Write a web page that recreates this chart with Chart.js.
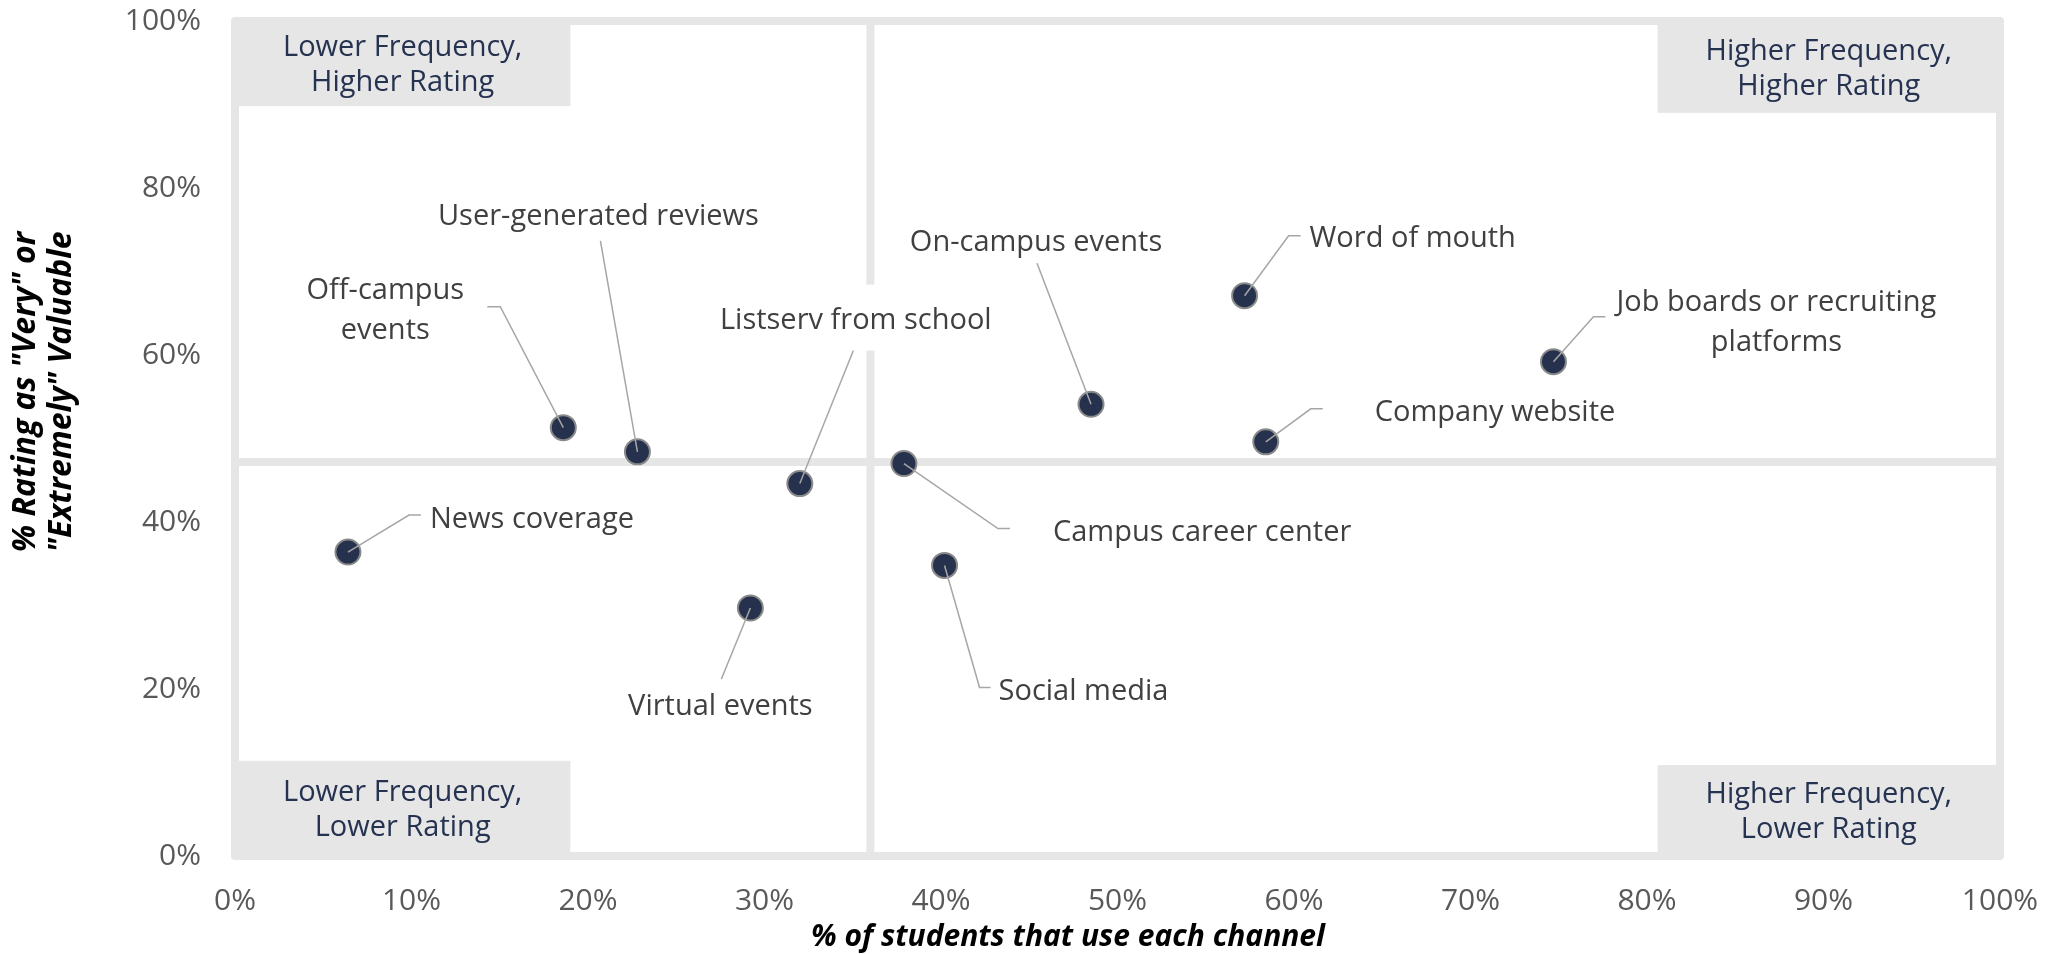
<!DOCTYPE html>
<html>
<head>
<meta charset="utf-8">
<script src="https://cdn.jsdelivr.net/npm/chart.js@4.4.1/dist/chart.umd.min.js"></script>
<style>
  html, body { margin: 0; padding: 0; background: #fff; }
  #wrap { width: 2046px; height: 954px; position: relative; }
</style>
</head>
<body>
<div id="wrap"><canvas id="quadchart"></canvas></div>
<script>
// channels, % of students using each one (x) and % rating it very/extremely valuable (y)
const channels = [
  'News coverage', 'Off-campus\nevents', 'User-generated reviews', 'Listserv from school',
  'Virtual events', 'Campus career center', 'Social media', 'On-campus events',
  'Word of mouth', 'Company website', 'Job boards or recruiting\nplatforms'
];
const usage  = [6.4, 18.6, 22.8, 32.0, 29.2, 37.9, 40.2, 48.5, 57.2, 58.4, 74.7];
const rating = [36.4, 51.3, 48.4, 44.6, 29.7, 47.0, 34.8, 54.1, 67.1, 49.6, 59.2];

const xTicks = [0, 10, 20, 30, 40, 50, 60, 70, 80, 90, 100];
const yTicks = [0, 20, 40, 60, 80, 100];

// quadrant split lines
const splitX = 36.0;
const splitY = 47.2;

const quadrantNames = [
  'Lower Frequency,\nHigher Rating', 'Higher Frequency,\nHigher Rating',
  'Lower Frequency,\nLower Rating', 'Higher Frequency,\nLower Rating'
];

// grey corner boxes, in axis units
const quadBoxes = [
  { x0: 0, x1: 19.0, y0: 89.8, y1: 100 },
  { x0: 80.6, x1: 100, y0: 89.0, y1: 100 },
  { x0: 0, x1: 19.0, y0: 0, y1: 11.4 },
  { x0: 80.6, x1: 100, y0: 0, y1: 10.9 }
];

// callout placement, pixel offsets from each point
const callouts = [
  { text: [82, -32], align: 'left', path: [[61, -37], [73, -37]] },
  { text: [-178, -117], align: 'center', path: [[-63, -121], [-76, -121]] },
  { text: [-39, -235], align: 'center', path: [[-37, -211]] },
  { text: [56, -163], align: 'center', path: [[54, -134]], knockout: true },
  { text: [-30, 99], align: 'center', path: [[-29, 71]] },
  { text: [149, 69], align: 'left', path: [[94, 65], [106, 65]] },
  { text: [54, 126], align: 'left', path: [[35, 122], [46, 122]] },
  { text: [-55, -162], align: 'center', path: [[-54, -141]] },
  { text: [65, -57], align: 'left', path: [[44, -60], [56, -60]] },
  { text: [109, -29], align: 'left', path: [[45, -33], [57, -33]] },
  { text: [223, -39], align: 'center', path: [[40, -45], [52, -45]] }
];

const GREY = '#e6e6e6';
const FONT = '"Open Sans", "Noto Sans", sans-serif';

// keep tick label overflow from pushing the plot area inwards
function fixScale(s, size) {
  if (s.isHorizontal()) s.height = size; else s.width = size;
  s.paddingTop = s.paddingBottom = s.paddingLeft = s.paddingRight = 0;
}

const quadrantPlugin = {
  id: 'quadrants',
  beforeDatasetsDraw(chart) {
    const { ctx, chartArea: a } = chart;
    const x = chart.scales.x, y = chart.scales.y;
    ctx.save();
    ctx.fillStyle = GREY;
    quadBoxes.forEach(b => {
      const l = x.getPixelForValue(b.x0), r = x.getPixelForValue(b.x1);
      const t = y.getPixelForValue(b.y1), btm = y.getPixelForValue(b.y0);
      ctx.fillRect(l, t, r - l, btm - t);
    });

    ctx.strokeStyle = GREY;
    ctx.lineWidth = 8;
    const sx = x.getPixelForValue(splitX), sy = y.getPixelForValue(splitY);
    ctx.beginPath();
    ctx.moveTo(sx, a.top); ctx.lineTo(sx, a.bottom);
    ctx.moveTo(a.left, sy); ctx.lineTo(a.right, sy);
    ctx.stroke();

    ctx.lineJoin = 'round';
    ctx.strokeRect(a.left, a.top, a.width, a.height);

    ctx.fillStyle = '#253250';
    ctx.font = '29px ' + FONT;
    ctx.textAlign = 'center';
    ctx.textBaseline = 'middle';
    quadBoxes.forEach((b, i) => {
      const cx = (x.getPixelForValue(b.x0) + x.getPixelForValue(b.x1)) / 2;
      const cy = (y.getPixelForValue(b.y0) + y.getPixelForValue(b.y1)) / 2 + 2;
      const lines = quadrantNames[i].split('\n');
      lines.forEach((ln, k) => ctx.fillText(ln, cx, cy + (k - (lines.length - 1) / 2) * 35));
    });
    ctx.restore();
  },
  afterDatasetsDraw(chart) {
    const { ctx } = chart;
    const pts = chart.getDatasetMeta(0).data;
    ctx.save();
    ctx.strokeStyle = '#a6a6a6';
    ctx.lineWidth = 1.5;
    pts.forEach((p, i) => {
      const c = callouts[i];
      ctx.beginPath();
      ctx.moveTo(p.x, p.y);
      c.path.forEach(([dx, dy]) => ctx.lineTo(p.x + dx, p.y + dy));
      ctx.stroke();
    });

    ctx.font = '29px ' + FONT;
    ctx.textBaseline = 'middle';
    pts.forEach((p, i) => {
      const c = callouts[i];
      const lines = channels[i].split('\n');
      const tx = p.x + c.text[0], ty = p.y + c.text[1];
      ctx.textAlign = c.align;
      if (c.knockout) {
        const w = Math.max(...lines.map(l => ctx.measureText(l).width)) + 20;
        ctx.fillStyle = '#fff';
        ctx.fillRect(tx - w / 2, ty - 36, w, 66);
      }
      ctx.fillStyle = '#404040';
      lines.forEach((ln, k) => ctx.fillText(ln, tx, ty + (k - (lines.length - 1) / 2) * 40));
    });
    ctx.restore();
  },
  afterDraw(chart) {
    const { ctx } = chart;
    ctx.save();
    ctx.fillStyle = '#000';
    ctx.textAlign = 'center';
    ctx.textBaseline = 'middle';
    ctx.font = 'italic bold 30px ' + FONT;
    ctx.fillText('% of students that use each channel', 1068, 937);
    ctx.font = 'italic bold 32px ' + FONT;
    ctx.translate(43, 392);
    ctx.rotate(-Math.PI / 2);
    ctx.fillText('% Rating as "Very" or', 0, -17);
    ctx.fillText('"Extremely" Valuable', 0, 19);
    ctx.restore();
  }
};

const ctx = document.getElementById('quadchart').getContext('2d');
const quadchart = new Chart(ctx, {
  type: 'scatter',
  data: {
    datasets: [{
      data: usage.map((u, i) => ({ x: u, y: rating[i] })),
      pointRadius: 12.5,
      pointBackgroundColor: '#26324d',
      pointBorderColor: '#8a8a8a',
      pointBorderWidth: 2
    }]
  },
  plugins: [quadrantPlugin],
  options: {
    responsive: true,
    maintainAspectRatio: false,
    animation: false,
    events: [],
    layout: { padding: { top: 21, right: 46, bottom: 0, left: 0 } },
    plugins: { legend: { display: false }, tooltip: { enabled: false } },
    scales: {
      x: {
        type: 'linear', min: 0, max: 100,
        afterFit: s => fixScale(s, 98),
        afterBuildTicks: s => { s.ticks = xTicks.map(v => ({ value: v })); },
        grid: { display: false, drawTicks: false },
        border: { display: false },
        ticks: { padding: 27, color: '#595959', font: { family: FONT, size: 30 }, callback: v => v + '%' }
      },
      y: {
        type: 'linear', min: 0, max: 100,
        afterFit: s => fixScale(s, 235),
        afterBuildTicks: s => { s.ticks = yTicks.map(v => ({ value: v })); },
        grid: { display: false, drawTicks: false },
        border: { display: false },
        ticks: { padding: 34, color: '#595959', font: { family: FONT, size: 30 }, callback: v => v + '%' }
      }
    }
  }
});
</script>
</body>
</html>
